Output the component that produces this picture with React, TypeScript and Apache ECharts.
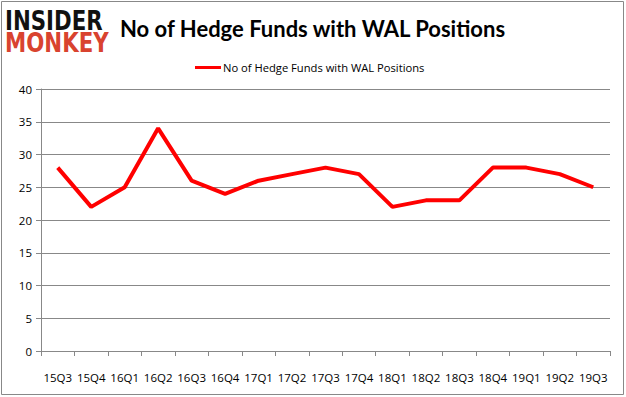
import React, { useEffect, useRef } from "react";
import * as echarts from "echarts";

const categories = ["15Q3","15Q4","16Q1","16Q2","16Q3","16Q4","17Q1","17Q2","17Q3","17Q4","18Q1","18Q2","18Q3","18Q4","19Q1","19Q2","19Q3"];
const hedgeFunds = [28,22,25,34,26,24,26,27,28,27,22,23,23,28,28,27,25];
const seriesName = "No of Hedge Funds with WAL Positions";
const titleText = "No of Hedge Funds with WAL Positions";

export default function App() {
  const ref = useRef<HTMLDivElement>(null);
  useEffect(() => {
    const chart = echarts.init(ref.current!, null, { renderer: "svg" });
    chart.setOption({
      animation: false,
      backgroundColor: "#fff",
      title: {
        text: titleText,
        left: 115,
        top: 12,
        textStyle: { fontFamily: "Lato", fontWeight: "bold", fontSize: 22, color: "#000" },
      },
      legend: {
        top: 57,
        left: 190,
        itemWidth: 26,
        itemHeight: 3,
        itemGap: 4,
        icon: "rect",
        data: [seriesName],
        textStyle: { fontFamily: "Open Sans", fontSize: 11.2, color: "#000", padding: [0, 0, 0, -3] },
      },
      graphic: [
        { type: "rect", shape: { x: 1.5, y: 1.5, width: 622, height: 393 }, style: { fill: "none", stroke: "#888", lineWidth: 1 }, silent: true },
        { type: "text", x: 5, y: 8, scaleX: 0.82, style: { text: "INSIDER", fontFamily: "DejaVu Sans", fontWeight: "bold", fontSize: 26, fill: "#111" } },
        { type: "text", x: 5, y: 30, scaleX: 0.82, style: { text: "MONKEY", fontFamily: "DejaVu Sans", fontWeight: "bold", fontSize: 26, fill: "#d9432f" } },
      ],
      grid: { left: 41, right: 16, top: 89, bottom: 46 },
      xAxis: {
        type: "category",
        data: categories,
        boundaryGap: true,
        axisLine: { lineStyle: { color: "#888" } },
        axisTick: { show: true, length: 5, lineStyle: { color: "#888" } },
        axisLabel: { margin: 20, fontFamily: "Open Sans", fontSize: 11.5, color: "#000", interval: 0 },
      },
      yAxis: {
        type: "value",
        min: 0,
        max: 40,
        interval: 5,
        axisLine: { show: true, lineStyle: { color: "#888" } },
        axisTick: { show: true, length: 5, lineStyle: { color: "#888" } },
        splitLine: { lineStyle: { color: "#888" } },
        axisLabel: { margin: 9, fontFamily: "Open Sans", fontSize: 11.5, color: "#000" },
      },
      series: [
        {
          name: seriesName,
          type: "line",
          data: hedgeFunds,
          showSymbol: false,
          symbol: "none",
          lineStyle: { color: "#ff0000", width: 4 },
          itemStyle: { color: "#ff0000" },
        },
      ],
    });
    return () => chart.dispose();
  }, []);
  return <div ref={ref} style={{ position: "fixed", left: 0, top: 0, width: 626, height: 397 }} />;
}
